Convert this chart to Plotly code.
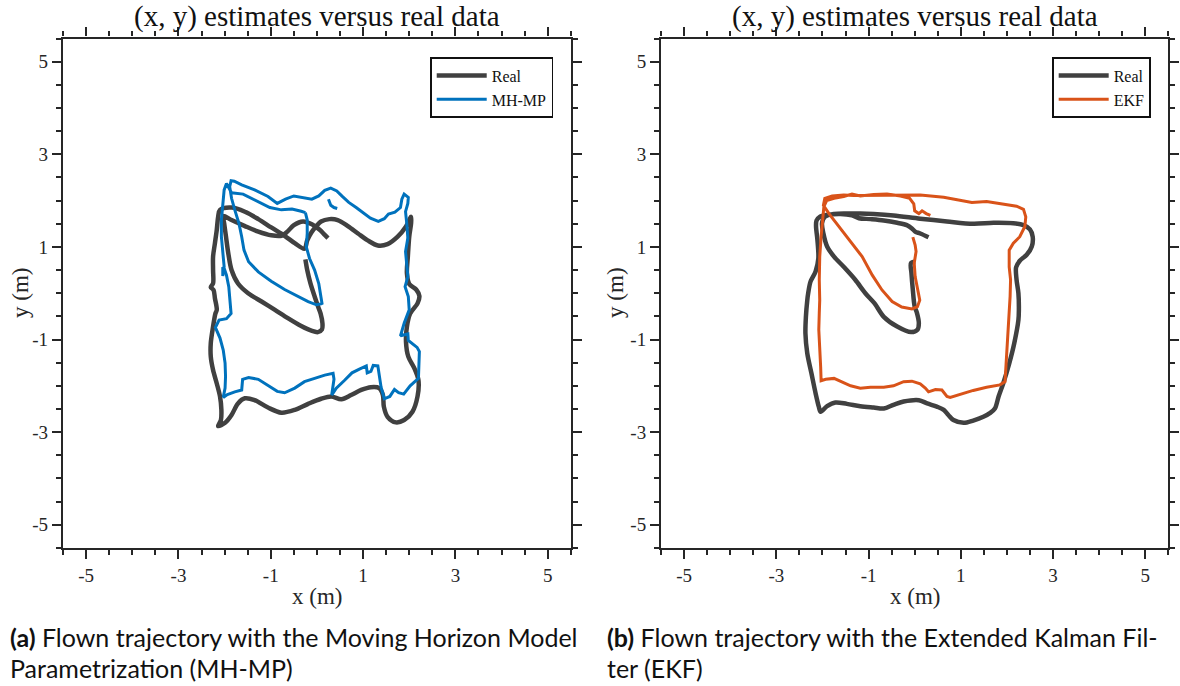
import plotly.graph_objects as go

# ---------------- data (metres) ----------------
# (a) Real trajectory (None = break between pieces)
real_a_x = [-0.25, -0.21, -0.14, -0.05, 0.04, 0.08, 0.12, 0.11, 0.02, -0.12, -0.34, -0.63, -0.91, -1.20,
            -1.49, -1.71, -1.85, -1.92, -1.97, -2.01, -2.03, -1.85, -1.56, -1.27, -0.99, -0.77, -0.64,
            -0.50, -0.30, -0.11, 0.06, 0.17, 0.24,
            None,
            -0.27, -0.48, -0.70, -0.99, -1.27, -1.56, -1.85, -2.10, -2.14, -2.17, -2.21, -2.25, -2.25,
            -2.25, -2.30, -2.24, -2.21, -2.17, -2.20, -2.25, -2.30, -2.30, -2.25, -2.17, -2.10, -2.07,
            -2.08, -2.14, -1.99, -1.85, -1.71, -1.56, -1.35, -1.06, -0.77, -0.48, -0.19, 0.09, 0.31,
            0.53, 0.74, 0.96, 1.17, 1.35, 1.43, 1.45, 1.53, 1.71, 1.89, 2.07, 2.18, 2.20, 2.11, 1.98,
            1.93, 1.95, 2.02, 2.18, 2.22, 2.15, 2.00, 1.95, 1.97, 2.00, 2.04, 2.04, 1.93, 1.75, 1.53,
            1.32, 1.10, 0.89, 0.67, 0.45, 0.27, 0.09, -0.01, -0.12, -0.21, -0.27]
real_a_y = [0.73, 0.50, 0.21, -0.07, -0.33, -0.44, -0.65, -0.78, -0.84, -0.81, -0.71, -0.54, -0.36, -0.18,
            0.00, 0.21, 0.50, 0.86, 1.22, 1.51, 1.67, 1.58, 1.45, 1.33, 1.25, 1.24, 1.33,
            1.47, 1.55, 1.49, 1.37, 1.26, 1.19,
            None,
            0.96, 1.08, 1.24, 1.42, 1.60, 1.76, 1.85, 1.80, 1.65, 1.37, 1.08, 0.79, 0.50,
            0.21, 0.13, 0.07, -0.11, -0.36, -0.44, -0.72, -1.08, -1.37, -1.66, -1.95, -2.23, -2.52,
            -2.74, -2.87, -2.80, -2.63, -2.38, -2.27, -2.31, -2.47, -2.58, -2.52, -2.39, -2.28, -2.23,
            -2.29, -2.20, -2.09, -2.03, -2.05, -2.20, -2.45, -2.67, -2.79, -2.74, -2.56, -2.23, -1.88,
            -1.62, -1.37, -1.05, -0.72, -0.44, -0.22, -0.06, 0.08, 0.20, 0.43, 0.79, 1.22, 1.51, 1.65,
            1.44, 1.22, 1.06, 1.03, 1.14, 1.29, 1.45, 1.58, 1.60, 1.55, 1.45, 1.31, 1.14, 0.96]

# (a) MH-MP estimate
mhmp_x = [-0.25, -0.21, -0.21, -0.23, -0.16, -0.05, 0.04, 0.09, 0.11, 0.09, -0.01, -0.19, -0.41, -0.70,
          -0.99, -1.27, -1.48, -1.58, -1.63, -1.69, -1.78, -1.85, -1.89, -1.86, -1.79, -1.63, -1.35,
          -1.06, -0.86, -0.68, -0.50, -0.30, -0.11, 0.04, 0.17, 0.30, 0.43, 0.55, 0.69, 0.85, 0.99,
          1.16, 1.33, 1.46, 1.55, 1.69, 1.81, 1.84, 1.89, 1.98, 1.97, 1.92, 1.95, 1.97, 1.92, 1.95,
          1.97, 1.91, 1.98, 2.00, 1.89, 1.81, 1.97, 1.98, 2.17, 2.22, 2.20, 2.02, 1.88, 1.77, 1.68,
          1.58, 1.46, 1.39, 1.35, 1.32, 1.22, 1.17, 1.09, 1.07, 0.92, 0.76, 0.60, 0.42, 0.32, 0.37,
          0.35, 0.17, -0.05, -0.27, -0.48, -0.70, -0.86, -1.06, -1.27, -1.48, -1.61, -1.63, -1.78,
          -1.94, -2.03, -1.99, -1.98, -1.99, -2.03, -2.10, -2.20, -2.12, -1.96, -1.86, -1.89, -1.91,
          -1.96, -2.01, -2.04, -2.04, -2.01, -2.03, -2.07, -2.07, -2.04, -2.01, -1.96, -1.85, -1.60,
          -1.35, -1.02, -0.77, -0.54, -0.34, -0.25,
          None,
          0.25, 0.30, 0.37, 0.44]
mhmp_y = [1.74, 1.58, 1.29, 1.00, 0.75, 0.50, 0.21, -0.04, -0.22, -0.23, -0.25, -0.18, -0.06, 0.08,
          0.26, 0.46, 0.68, 0.93, 1.22, 1.51, 1.80, 2.05, 2.30, 2.43, 2.42, 2.34, 2.23,
          2.09, 1.94, 2.03, 2.10, 2.07, 2.03, 2.10, 2.22, 2.27, 2.21, 2.09, 1.96, 1.85, 1.74,
          1.62, 1.55, 1.61, 1.71, 1.75, 1.85, 2.03, 2.14, 2.07, 1.94, 1.76, 1.47, 1.19, 0.90, 0.61,
          0.36, 0.14, -0.07, -0.36, -0.65, -0.92, -0.88, -1.02, -1.17, -1.26, -1.84, -2.00, -2.18, -2.15, -2.08,
          -2.23, -2.28, -2.03, -1.69, -1.57, -1.56, -1.69, -1.72, -1.57, -1.64, -1.72, -1.88, -2.05, -2.20, -1.86,
          -1.73, -1.77, -1.84, -1.91, -2.05, -2.15, -2.12, -1.99, -1.86, -1.82, -1.86, -2.09, -2.13,
          -2.19, -2.25, -2.05, -1.80, -1.51, -1.23, -0.97, -0.74, -0.58, -0.55, -0.44, -0.15, 0.14,
          0.39, 0.54, 0.56, 0.37, 0.57, 0.86, 1.22, 1.58, 1.94, 2.23, 2.37, 2.17, 2.14,
          2.01, 1.85, 1.80, 1.82, 1.77, 1.74,
          None,
          2.03, 1.90, 1.85, 1.83]

# (b) Real trajectory
real_b_x = [0.01, -0.08, -0.07, -0.04, 0.00, 0.05, 0.09, 0.06, -0.08, -0.38, -0.67, -0.87, -1.07, -1.29,
            -1.54, -1.75, -1.90, -1.98, -2.01, -1.95, -1.75, -1.47, -1.18, -0.89, -0.46, 0.12, 0.70,
            1.27, 1.71, 2.14, 2.36, 2.50, 2.56, 2.54, 2.43, 2.28, 2.20, 2.21, 2.25, 2.26, 2.25, 2.16,
            2.05, 1.92, 1.82, 1.74, 1.63, 1.49, 1.27, 1.06, 0.84, 0.73, 0.63, 0.48, 0.27, 0.09, -0.24,
            -0.46, -0.67, -0.89, -1.18, -1.47, -1.72, -1.90, -2.04, -2.08, -2.15, -2.24, -2.33, -2.37,
            -2.36, -2.33, -2.31, -2.26, -2.15, -2.09, -2.11, -2.14, -2.13, -2.06, -1.90, -1.61, -1.36,
            -1.21, -0.96, -0.67, -0.38, -0.17, -0.06, 0.01, 0.12, 0.30]
real_b_y = [0.68, 0.65, 0.43, 0.07, -0.29, -0.43, -0.65, -0.79, -0.84, -0.72, -0.51, -0.22, 0.00, 0.29,
            0.57, 0.79, 1.01, 1.29, 1.51, 1.65, 1.71, 1.72, 1.72, 1.71, 1.68, 1.61, 1.55,
            1.50, 1.52, 1.51, 1.47, 1.38, 1.22, 1.01, 0.83, 0.70, 0.56, 0.29, 0.00, -0.36, -0.58, -1.08,
            -1.52, -1.95, -2.23, -2.49, -2.59, -2.67, -2.75, -2.80, -2.74, -2.63, -2.52, -2.45, -2.38, -2.31, -2.34,
            -2.41, -2.49, -2.47, -2.44, -2.39, -2.36, -2.44, -2.56, -2.45, -2.16, -1.73, -1.30, -0.87,
            -0.51, -0.15, 0.00, 0.25, 0.47, 0.75, 1.15, 1.44, 1.57, 1.65, 1.69, 1.71, 1.68,
            1.62, 1.60, 1.57, 1.52, 1.47, 1.40, 1.33, 1.29, 1.21]

# (b) EKF estimate
ekf_x = [-0.04, 0.01, 0.03, -0.01, 0.01, 0.07, 0.11, 0.06, -0.06, -0.28, -0.49, -0.71, -0.92, -1.14,
         -1.39, -1.65, -1.86, -1.98, -1.95, -1.79, -1.54, -1.32, -0.89, -0.38, 0.12, 0.63, 0.99,
         1.24, 1.56, 1.92, 2.21, 2.36, 2.41, 2.39, 2.28, 2.14, 2.05, 2.05, 2.08, 2.07, 2.05, 2.03,
         2.01, 1.99, 1.96, 1.85, 1.56, 1.27, 0.99, 0.77, 0.70, 0.59, 0.45, 0.30, 0.23, 0.12, -0.06,
         -0.24, -0.46, -0.67, -0.96, -1.18, -1.39, -1.61, -1.75, -1.93, -2.03, -2.04, -2.06, -2.08,
         -2.07, -2.06, -2.07, -2.06, -2.03, -1.98, -1.97, -1.91, -1.75, -1.54, -1.36, -1.18, -0.89,
         -0.60, -0.31, -0.11, -0.02, 0.00, 0.09, 0.16, 0.25, 0.34]
ekf_y = [1.21, 1.04, 0.90, 0.65, 0.36, 0.07, -0.15, -0.29, -0.34, -0.30, -0.18, 0.07, 0.39, 0.79,
         1.11, 1.44, 1.72, 1.90, 2.05, 2.10, 2.12, 2.11, 2.11, 2.12, 2.12, 2.07, 2.00,
         1.96, 1.98, 1.93, 1.88, 1.81, 1.65, 1.44, 1.22, 1.08, 0.93, 0.57, 0.29, -0.07, -0.43, -0.87,
         -1.30, -1.66, -1.91, -1.98, -2.03, -2.10, -2.18, -2.25, -2.23, -2.09, -2.08, -2.13, -2.05, -1.96, -1.90,
         -1.91, -2.00, -2.03, -2.03, -2.05, -2.00, -1.91, -1.84, -1.86, -1.89, -1.59, -1.23, -0.79,
         -0.43, -0.15, 0.29, 0.79, 1.22, 1.65, 1.87, 2.00, 2.05, 2.09, 2.14, 2.10, 2.13,
         2.14, 2.10, 2.05, 1.93, 1.78, 1.72, 1.78, 1.72, 1.68]

tick_vals = [-5, -3, -1, 1, 3, 5]
tick_text = ["-5", "-3", "-1", "1", "3", "5"]
titles = ["(x, y) estimates versus real data", "(x, y) estimates versus real data"]
captions = [("<b>(a)</b> Flown trajectory with the Moving Horizon Model", "Parametrization (MH-MP)"),
            ("<b>(b)</b> Flown trajectory with the Extended Kalman Fil-", "ter (EKF)")]

# ---------------- styling ----------------
W, H = 1180, 686
REAL_C = "#404040"
BLUE = "#0072BD"
ORANGE = "#D95319"
AX_C = "#262626"
SERIF = "Liberation Serif, DejaVu Serif, serif"
SANS = "Lato, Open Sans, sans-serif"

fig = go.Figure()
fig.add_trace(go.Scatter(x=real_a_x, y=real_a_y, mode="lines", name="Real",
                         line=dict(color=REAL_C, width=4.5, shape="spline", smoothing=0.9),
                         xaxis="x", yaxis="y", legend="legend", connectgaps=False))
fig.add_trace(go.Scatter(x=mhmp_x, y=mhmp_y, mode="lines", name="MH-MP",
                         line=dict(color=BLUE, width=3),
                         xaxis="x", yaxis="y", legend="legend", connectgaps=False))
fig.add_trace(go.Scatter(x=real_b_x, y=real_b_y, mode="lines", name="Real",
                         line=dict(color=REAL_C, width=4.5, shape="spline", smoothing=0.9),
                         xaxis="x2", yaxis="y2", legend="legend2"))
fig.add_trace(go.Scatter(x=ekf_x, y=ekf_y, mode="lines", name="EKF",
                         line=dict(color=ORANGE, width=3),
                         xaxis="x2", yaxis="y2", legend="legend2"))

def axis(domain, anchor):
    return dict(domain=domain, anchor=anchor, range=[-5.5, 5.5],
                tickmode="array", tickvals=tick_vals, ticktext=tick_text,
                ticks="outside", ticklen=9, tickwidth=1.8, tickcolor=AX_C,
                showline=True, linewidth=2.4, linecolor=AX_C, mirror="ticks",
                showgrid=False, zeroline=False,
                tickfont=dict(family=SERIF, size=19, color=AX_C),
                minor=dict(tick0=-5.5, dtick=0.5, ticks="outside", ticklen=5,
                           tickwidth=1.5, tickcolor=AX_C, showgrid=False))

ydom = [(H - 547.85) / H, (H - 38.55) / H]
xdom1 = [63.3 / W, 572.7 / W]
xdom2 = [663.4 / W, 1172.2 / W]

leg_common = dict(bgcolor="white", bordercolor="#111111", borderwidth=1.6,
                  font=dict(family=SERIF, size=16, color="#111111"),
                  xref="paper", yref="paper", xanchor="right", yanchor="top",
                  tracegroupgap=0, itemwidth=50)

fig.update_layout(
    width=W, height=H, margin=dict(l=0, r=0, t=0, b=0),
    paper_bgcolor="white", plot_bgcolor="white",
    xaxis=axis(xdom1, "y"), yaxis=axis(ydom, "x"),
    xaxis2=axis(xdom2, "y2"), yaxis2=axis(ydom, "x2"),
    legend=dict(x=555 / W, y=1 - 57 / H, **leg_common),
    legend2=dict(x=1155 / W, y=1 - 57 / H, **leg_common),
    showlegend=True,
)

ann = []
for i, (xd, cap) in enumerate([(xdom1, captions[0]), (xdom2, captions[1])]):
    cx = (xd[0] + xd[1]) / 2
    ann.append(dict(text=titles[i], x=cx, y=1 - 16 / H, xref="paper", yref="paper",
                    showarrow=False, xanchor="center", yanchor="middle",
                    font=dict(family=SERIF, size=29, color="#111111")))
    ann.append(dict(text="x (m)", x=cx, y=1 - 596 / H, xref="paper", yref="paper",
                    showarrow=False, xanchor="center", yanchor="middle",
                    font=dict(family=SERIF, size=23, color=AX_C)))
    ann.append(dict(text="y (m)", x=(20 if i == 0 else 617) / W, y=1 - 293 / H,
                    xref="paper", yref="paper", showarrow=False, textangle=-90,
                    xanchor="center", yanchor="middle",
                    font=dict(family=SERIF, size=23, color=AX_C)))
    lx = (8 if i == 0 else 607) / W
    ann.append(dict(text=cap[0], x=lx, y=1 - 637 / H, xref="paper", yref="paper",
                    showarrow=False, xanchor="left", yanchor="middle",
                    font=dict(family=SANS, size=25, color="#111111")))
    ann.append(dict(text=cap[1], x=lx, y=1 - 668 / H, xref="paper", yref="paper",
                    showarrow=False, xanchor="left", yanchor="middle",
                    font=dict(family=SANS, size=25, color="#111111")))
fig.update_layout(annotations=ann)

fig.write_html("out.html")
